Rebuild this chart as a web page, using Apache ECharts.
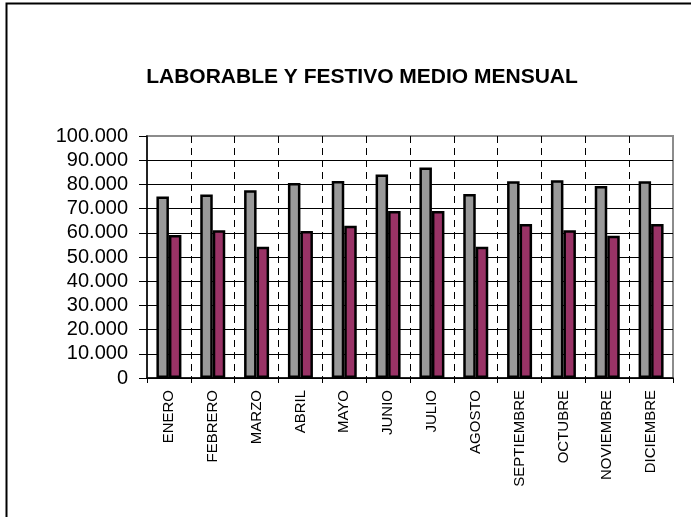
<!DOCTYPE html>
<html>
<head>
<meta charset="utf-8">
<script src="https://cdn.jsdelivr.net/npm/echarts@6/dist/echarts.min.js"></script>
<style>
  html, body { margin: 0; padding: 0; background: #fff; }
  #chart { width: 691px; height: 517px; }
</style>
</head>
<body>
<div id="chart"></div>
<script>
const meses = ["ENERO", "FEBRERO", "MARZO", "ABRIL", "MAYO", "JUNIO", "JULIO",
  "AGOSTO", "SEPTIEMBRE", "OCTUBRE", "NOVIEMBRE", "DICIEMBRE"];
const laborable = [75000, 75800, 77600, 80600, 81400, 84100, 87000, 76000, 81300, 81700, 79300, 81300];
const festivo = [59100, 61100, 54200, 60700, 62900, 69000, 69000, 54200, 63600, 61100, 58800, 63600];

const font = "'Liberation Sans', Arial, sans-serif";
const chart = echarts.init(document.getElementById("chart"), null, { renderer: "canvas" });

// 100000 -> "100.000"
function miles(v) {
  return String(v).replace(/\B(?=(\d{3})+(?!\d))/g, ".");
}

const option = {
  animation: false,
  backgroundColor: "#fff",
  title: {
    text: "LABORABLE Y FESTIVO MEDIO MENSUAL",
    left: 357,
    textAlign: "center",
    top: 62,
    textStyle: { fontFamily: font, fontSize: 21, fontWeight: "bold", color: "#000" }
  },
  graphic: [{
    type: "rect",
    shape: { x: 6.5, y: 3.5, width: 720, height: 560 },
    style: { fill: null, stroke: "#000", lineWidth: 2 },
    silent: true
  }],
  grid: {
    left: 147, top: 136, right: 18, bottom: 139,
    show: true, borderColor: "#8c8c8c", borderWidth: 2, backgroundColor: "#fff"
  },
  xAxis: {
    type: "category",
    data: meses,
    axisLine: { lineStyle: { color: "#000", width: 1.5 } },
    axisTick: { show: true, length: 5, lineStyle: { color: "#000" } },
    axisLabel: { rotate: 90, fontFamily: font, fontSize: 15, color: "#000", margin: 12 },
    splitLine: {
      show: true, showMinLine: false, showMaxLine: false,
      lineStyle: { color: "#000", type: [7, 5], width: 1 }
    }
  },
  yAxis: {
    type: "value",
    min: 0, max: 100000, interval: 10000,
    axisLine: { show: true, lineStyle: { color: "#000", width: 1.5 } },
    axisTick: { show: true, length: 8, lineStyle: { color: "#000" } },
    axisLabel: { fontFamily: font, fontSize: 20, color: "#000", margin: 19, formatter: miles },
    splitLine: { show: true, showMaxLine: false, lineStyle: { color: "#000", width: 1 } }
  },
  series: [
    {
      name: "Laborable", type: "bar", data: laborable,
      barWidth: 12.5, barGap: "0%",
      itemStyle: { color: "#999999", borderColor: "#000", borderWidth: 2.5 }
    },
    {
      name: "Festivo", type: "bar", data: festivo,
      barWidth: 12.5,
      itemStyle: { color: "#993366", borderColor: "#000", borderWidth: 2.5 }
    }
  ]
};

chart.setOption(option);
</script>
</body>
</html>
